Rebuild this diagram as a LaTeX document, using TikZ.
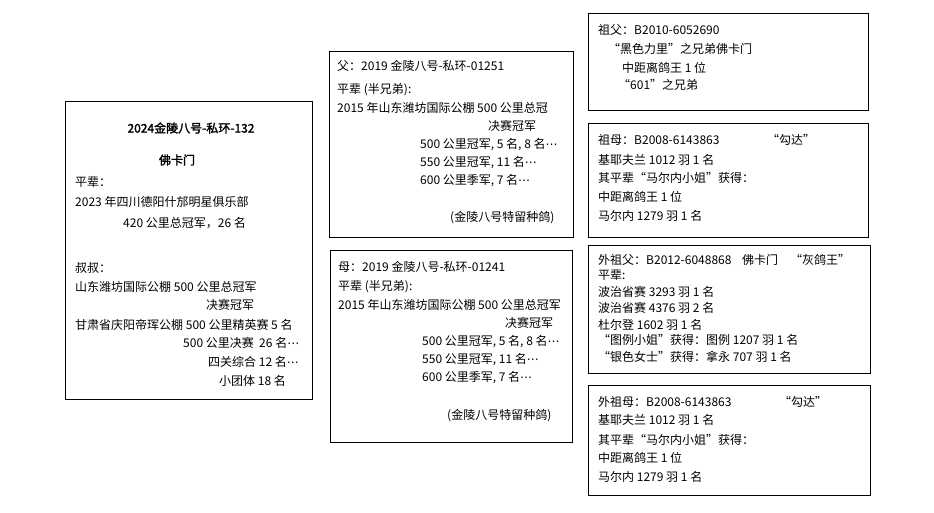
\documentclass[tikz,border=0pt]{standalone}
\usepackage{fontspec}
\newfontfamily\cjk{Noto Sans CJK SC}
\newfontfamily\cjkbold{Noto Sans CJK SC}[FakeBold=2]
\newfontfamily\symfont{DejaVu Sans}
\newcommand\mdots{{\symfont\fontsize{12}{14}\selectfont ⋯}}

\tikzset{
  card/.style={draw, line width=0.9pt, anchor=north west, inner sep=0pt},
  entry/.style={anchor=west, inner sep=0pt, font=\cjk\fontsize{12}{14}\selectfont},
  headline/.style={anchor=center, inner sep=0pt, font=\cjkbold\fontsize{12}{14}\selectfont}
}

\begin{document}
\begin{tikzpicture}[x=1pt, y=-1pt]

\useasboundingbox (0,0) rectangle (934,513);

% the pigeon itself
\node[card, minimum width=247pt, minimum height=298pt] (son) at (65,101) {};
\node[headline] (son-ring) at (191,128) {2024金陵八号-私环-132};
\node[headline] (son-name) at (177,160) {佛卡门};
\foreach \x/\y/\t [count=\i] in {75/182/{平辈：}, 75/202/{2023 年四川德阳什邡明星俱乐部},
    123/223/{420 公里总冠军，26 名}, 75/268/{叔叔：}, 75/287/{山东潍坊国际公棚 500 公里总冠军},
    206/305/{决赛冠军}, 75/325/{甘肃省庆阳帝珲公棚 500 公里精英赛 5 名},
    183/343/{500 公里决赛~~26 名\mdots}, 208/362/{四关综合 12 名\mdots}, 219/381/{小团体 18 名}}
  \node[entry] (son-\i) at (\x,\y) {\t};

% sire
\node[card, minimum width=244pt, minimum height=186pt] (sire) at (329,51) {};
\foreach \x/\y/\t [count=\i] in {337/66/{父：2019 金陵八号-私环-01251}, 337/90/{平辈 (半兄弟):},
    337/108/{2015 年山东潍坊国际公棚 500 公里总冠}, 488/126/{决赛冠军},
    420/145/{500 公里冠军, 5 名, 8 名\mdots}, 420/163/{550 公里冠军, 11 名\mdots},
    420/181/{600 公里季军, 7 名\mdots}, 450/218/{(金陵八号特留种鸽)}}
  \node[entry] (sire-\i) at (\x,\y) {\t};

% dam
\node[card, minimum width=242pt, minimum height=192pt] (dam) at (330,250) {};
\foreach \x/\y/\t [count=\i] in {338/267/{母：2019 金陵八号-私环-01241}, 338/287/{平辈 (半兄弟):},
    338/305/{2015 年山东潍坊国际公棚 500 公里总冠军}, 505/323/{决赛冠军},
    422/342/{500 公里冠军, 5 名, 8 名\mdots}, 422/360/{550 公里冠军, 11 名\mdots},
    422/378/{600 公里季军, 7 名\mdots}, 447/416/{(金陵八号特留种鸽)}}
  \node[entry] (dam-\i) at (\x,\y) {\t};

% grandparents
\node[card, minimum width=280pt, minimum height=97pt] (gsire) at (588,13) {};
\foreach \x/\y/\t [count=\i] in {598/30/{祖父：B2010-6052690}, 608/49/{“黑色力里”之兄弟佛卡门},
    622/68/{中距离鸽王 1 位}, 618/85/{“601”之兄弟}}
  \node[entry] (gsire-\i) at (\x,\y) {\t};

\node[card, minimum width=280pt, minimum height=114pt] (gdam) at (588,123) {};
\foreach \x/\y/\t [count=\i] in {598/140/{祖母：B2008-6143863}, 767/140/{“勾达”},
    598/160/{基耶夫兰 1012 羽 1 名}, 598/178/{其平辈“马尔内小姐”获得：},
    598/197/{中距离鸽王 1 位}, 598/216/{马尔内 1279 羽 1 名}}
  \node[entry] (gdam-\i) at (\x,\y) {\t};

\node[card, minimum width=282pt, minimum height=128pt] (mgsire) at (588,245) {};
\foreach \x/\y/\t [count=\i] in {598/260/{外祖父：B2012-6048868}, 742/260/{佛卡门}, 790/260/{“灰鸽王”},
    598/275/{平辈:}, 598/292/{波治省赛 3293 羽 1 名}, 598/308/{波治省赛 4376 羽 2 名},
    598/325/{杜尔登 1602 羽 1 名}, 598/340/{“图例小姐”获得：图例 1207 羽 1 名},
    598/357/{“银色女士”获得：拿永 707 羽 1 名}}
  \node[entry] (mgsire-\i) at (\x,\y) {\t};

\node[card, minimum width=282pt, minimum height=110pt] (mgdam) at (588,385) {};
\foreach \x/\y/\t [count=\i] in {598/402/{外祖母：B2008-6143863}, 779/402/{“勾达”},
    598/420/{基耶夫兰 1012 羽 1 名}, 598/440/{其平辈“马尔内小姐”获得：},
    598/458/{中距离鸽王 1 位}, 598/477/{马尔内 1279 羽 1 名}}
  \node[entry] (mgdam-\i) at (\x,\y) {\t};

\end{tikzpicture}
\end{document}
